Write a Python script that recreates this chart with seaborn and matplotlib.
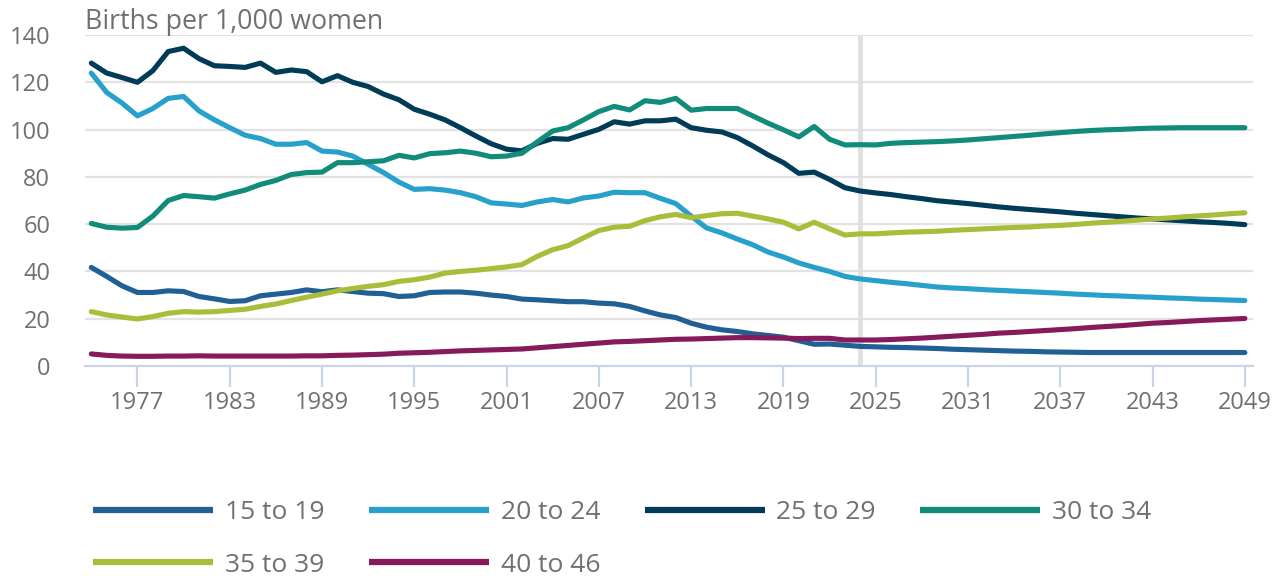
import matplotlib

matplotlib.use("Agg")

import matplotlib.pyplot as plt
import numpy as np
import pandas as pd
import seaborn as sns

# ---------------------------------------------------------------------------
# Data (births per 1,000 women; 1974-2049)
# ---------------------------------------------------------------------------

years = list(range(1974, 2050))

age_15_19 = [
    41.7, 37.9, 33.9, 31.1, 31.1, 31.8, 31.5, 29.4, 28.4, 27.3,
    27.6, 29.7, 30.4, 31.1, 32.2, 31.4, 32.2, 31.5, 30.8, 30.6,
    29.4, 29.7, 31.1, 31.3, 31.3, 30.8, 30.0, 29.4, 28.3, 28.0,
    27.6, 27.2, 27.2, 26.6, 26.3, 25.2, 23.3, 21.6, 20.5, 18.1,
    16.4, 15.3, 14.6, 13.6, 12.9, 12.2, 10.7, 9.2, 9.3, 8.8,
    8.3, 8.1, 7.9, 7.8, 7.6, 7.4, 7.1, 6.9, 6.7, 6.5,
    6.3, 6.2, 6.0, 5.9, 5.8, 5.7, 5.7, 5.7, 5.7, 5.7,
    5.7, 5.7, 5.7, 5.7, 5.7, 5.7,
]
age_20_24 = [
    123.9, 115.7, 111.2, 105.8, 108.9, 113.2, 114.0, 107.9, 104.1, 100.8,
    97.6, 96.2, 93.8, 93.8, 94.5, 90.9, 90.5, 88.8, 85.3, 81.8,
    77.8, 74.7, 75.0, 74.4, 73.3, 71.6, 69.0, 68.5, 67.9, 69.4,
    70.4, 69.4, 71.1, 71.9, 73.5, 73.3, 73.3, 70.9, 68.7, 63.4,
    58.4, 56.3, 53.7, 51.3, 48.2, 46.1, 43.6, 41.7, 40.0, 37.9,
    36.8, 36.1, 35.4, 34.8, 34.1, 33.4, 33.0, 32.7, 32.3, 32.0,
    31.7, 31.4, 31.1, 30.8, 30.4, 30.1, 29.8, 29.6, 29.3, 29.1,
    28.8, 28.6, 28.3, 28.1, 27.9, 27.7,
]
age_25_29 = [
    128.1, 123.9, 122.0, 120.0, 124.9, 133.0, 134.4, 130.0, 127.0, 126.7,
    126.3, 128.1, 124.2, 125.2, 124.5, 120.2, 122.8, 120.0, 118.2, 115.0,
    112.6, 108.6, 106.5, 104.1, 100.8, 97.3, 94.0, 91.7, 91.0, 94.2,
    96.2, 95.9, 98.0, 100.1, 103.3, 102.3, 103.7, 103.7, 104.4, 100.8,
    99.7, 99.0, 96.6, 93.1, 89.3, 86.0, 81.5, 82.0, 78.9, 75.4,
    74.0, 73.2, 72.5, 71.6, 70.8, 69.9, 69.3, 68.7, 68.0, 67.3,
    66.7, 66.2, 65.7, 65.2, 64.6, 64.1, 63.6, 63.1, 62.6, 62.2,
    61.8, 61.4, 61.0, 60.7, 60.3, 59.8,
]
age_30_34 = [
    60.3, 58.7, 58.3, 58.6, 63.4, 70.0, 72.1, 71.6, 71.0, 72.8,
    74.4, 76.8, 78.5, 81.0, 81.8, 82.0, 86.0, 86.0, 86.4, 86.8,
    89.1, 88.0, 89.8, 90.2, 90.9, 90.0, 88.5, 88.8, 90.0, 94.8,
    99.4, 100.8, 104.1, 107.6, 109.8, 108.3, 112.2, 111.5, 113.2, 108.2,
    108.9, 108.9, 108.9, 105.8, 102.7, 99.9, 96.9, 101.3, 95.9, 93.5,
    93.6, 93.5, 94.2, 94.5, 94.7, 94.9, 95.2, 95.6, 96.1, 96.6,
    97.1, 97.6, 98.2, 98.7, 99.2, 99.6, 99.9, 100.1, 100.4, 100.6,
    100.7, 100.8, 100.8, 100.8, 100.8, 100.8,
]
age_35_39 = [
    23.0, 21.6, 20.7, 19.9, 20.9, 22.3, 23.0, 22.8, 23.0, 23.5,
    24.0, 25.2, 26.2, 27.7, 29.1, 30.4, 31.8, 32.8, 33.7, 34.4,
    35.8, 36.5, 37.6, 39.3, 40.0, 40.5, 41.2, 41.9, 42.9, 46.4,
    49.2, 50.9, 54.2, 57.3, 58.7, 59.1, 61.5, 63.1, 64.1, 62.7,
    63.6, 64.4, 64.6, 63.4, 62.2, 60.8, 58.0, 60.8, 58.0, 55.4,
    55.9, 55.9, 56.3, 56.6, 56.8, 57.0, 57.4, 57.7, 58.0, 58.3,
    58.6, 58.8, 59.2, 59.5, 59.9, 60.4, 60.8, 61.2, 61.7, 62.2,
    62.6, 63.1, 63.5, 63.9, 64.4, 64.8,
]
age_40_46 = [
    5.1, 4.5, 4.2, 4.1, 4.1, 4.2, 4.2, 4.3, 4.2, 4.2,
    4.2, 4.2, 4.2, 4.2, 4.3, 4.3, 4.5, 4.6, 4.8, 5.0,
    5.4, 5.6, 5.8, 6.1, 6.4, 6.6, 6.8, 7.0, 7.2, 7.7,
    8.2, 8.7, 9.2, 9.7, 10.2, 10.4, 10.7, 11.0, 11.3, 11.4,
    11.6, 11.8, 12.0, 12.0, 11.9, 11.8, 11.6, 11.7, 11.7, 11.0,
    11.0, 11.0, 11.2, 11.5, 11.8, 12.2, 12.6, 13.0, 13.4, 13.9,
    14.2, 14.6, 15.0, 15.4, 15.8, 16.3, 16.7, 17.1, 17.6, 18.1,
    18.4, 18.8, 19.2, 19.5, 19.8, 20.1,
]

age_groups = ["15 to 19", "20 to 24", "25 to 29", "30 to 34", "35 to 39", "40 to 46"]
colors = ["#206095", "#27a0cc", "#003c57", "#118c7b", "#a8bd3a", "#871a5b"]
projection_start = 2024

# ---------------------------------------------------------------------------
# Style
# ---------------------------------------------------------------------------

_TEXT = "#707070"
_GRID = "#e2e2e2"
_AXIS = "#c9d3ea"

sns.set_theme(style="white")
plt.rcParams["font.family"] = ["Open Sans", "DejaVu Sans"]

df = pd.DataFrame(
    {
        "year": np.tile(years, len(age_groups)),
        "rate": np.concatenate(
            [age_15_19, age_20_24, age_25_29, age_30_34, age_35_39, age_40_46]
        ),
        "age": np.repeat(age_groups, len(years)),
    }
)

fig = plt.figure(figsize=(12.83, 5.76), dpi=100)
ax = fig.add_axes([85 / 1283, 1 - 366 / 576, (1253 - 85) / 1283, (366 - 35) / 576])

for y in range(20, 141, 20):
    ax.axhline(y, color=_GRID, linewidth=1.6, zorder=0)
ax.axvline(projection_start, color="#e0e0e0", linewidth=3.5, zorder=0)

sns.lineplot(
    data=df,
    x="year",
    y="rate",
    hue="age",
    hue_order=age_groups,
    palette=colors,
    linewidth=3.7,
    legend=True,
    ax=ax,
)

ax.set_xlim(1973.59, 2049.53)
ax.set_ylim(0, 140)
ax.set_xticks(range(1977, 2050, 6))
ax.set_yticks(range(0, 141, 20))
ax.set_xlabel("")
ax.set_ylabel("")

for side in ("top", "right", "left"):
    ax.spines[side].set_visible(False)
ax.spines["bottom"].set_color(_AXIS)
ax.spines["bottom"].set_linewidth(1.6)

ax.tick_params(axis="x", length=15, width=1.6, color=_AXIS, direction="out",
               pad=3, labelsize=17, labelcolor=_TEXT, bottom=True)
ax.tick_params(axis="y", length=0, pad=25, labelsize=17, labelcolor=_TEXT)

fig.text(85 / 1283, 1 - 29 / 576, "Births per 1,000 women", ha="left",
         va="baseline", fontsize=19.3, color=_TEXT)

# legend fills column by column: reorder so rows read 15-19 .. 30-34, then 35-39, 40-46
handles, labels = ax.get_legend_handles_labels()
ax.get_legend().remove()
order = [0, 4, 1, 5, 2, 3]
handles = [handles[i] for i in order]
labels = [labels[i] for i in order]
for h in handles:
    h.set_linewidth(4.5)
    h.set_solid_capstyle("butt")
leg = fig.legend(
    handles,
    labels,
    loc="upper left",
    bbox_to_anchor=(93 / 1283, 1 - 500 / 576),
    ncol=4,
    frameon=False,
    fontsize=19,
    handlelength=4.55,
    handletextpad=0.45,
    columnspacing=1.68,
    labelspacing=1.05,
    borderpad=0,
    borderaxespad=0,
)
for t in leg.get_texts():
    t.set_color(_TEXT)

fig.savefig("out.png", dpi=100)
